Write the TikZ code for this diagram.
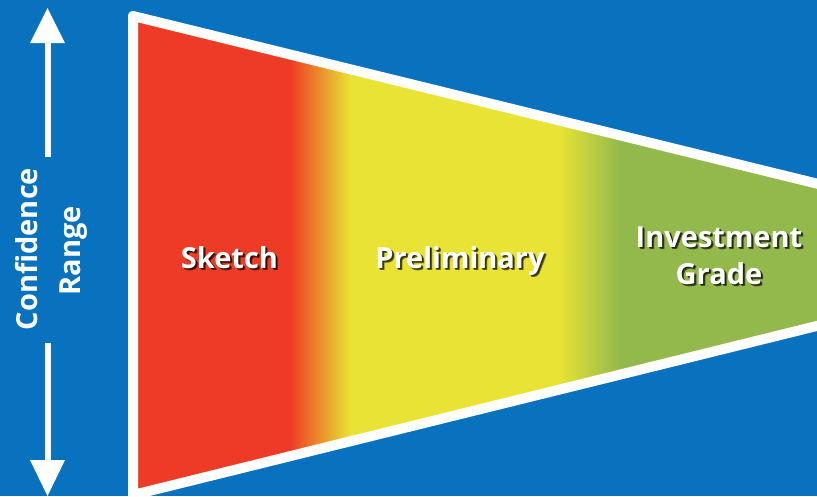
\documentclass[tikz,border=0pt]{standalone}
\usepackage{fontspec}
\setmainfont{Open Sans}
\definecolor{bgblue}{RGB}{9,114,190}
\definecolor{fred}{RGB}{238,59,37}
\definecolor{fyellow}{RGB}{232,227,52}
\definecolor{fgreen}{RGB}{147,184,76}
\tikzset{
  lbl/.style={text=white,font=\bfseries\fontsize{29}{34}\selectfont,inner sep=0pt,anchor=base},
  shd/.style={text=black,font=\bfseries\fontsize{29}{34}\selectfont,inner sep=0pt,anchor=base,opacity=#1},
  arrowpart/.style={fill=white,draw=none}
}
\begin{document}
\begin{tikzpicture}[x=1pt,y=-1pt]
\useasboundingbox (0,0) rectangle (817,496);
\fill[bgblue] (0,0) rectangle (817,496);
% funnel corners (stroke centre line)
\coordinate (tl) at (133,16);
\coordinate (tr) at (845,190.5);
\coordinate (br) at (845,319);
\coordinate (bl) at (133,495);
\begin{scope}
  \clip (tl) -- (tr) -- (br) -- (bl) -- cycle;
  \fill[fred] (120,0) rectangle (290,500);
  \shade[left color=fred,right color=fyellow] (289.5,0) rectangle (350.5,500);
  \fill[fyellow] (350,0) rectangle (560,500);
  \shade[left color=fyellow,right color=fgreen] (559.5,0) rectangle (620.5,500);
  \fill[fgreen] (620,0) rectangle (850,500);
\end{scope}
\draw[white,line width=10pt,line join=round] (tr) -- (tl) -- (bl) -- (br);
% double arrow
\fill[arrowpart] (30,43) -- (47.5,8) -- (65,43) -- cycle;
\fill[arrowpart] (44.5,42) rectangle (50.5,157);
\fill[arrowpart] (44.5,343) rectangle (50.5,461);
\fill[arrowpart] (30,460) -- (47.5,496) -- (65,460) -- cycle;
\node[lbl,rotate=90] (conf) at (37,249) {Confidence};
\node[lbl,rotate=90] (range) at (80,251) {Range};
% stage labels with shadows
\foreach \dx/\dy/\op in {2.5/2.5/0.25,2/2/0.45,1.5/1.5/0.45}{
  \node[shd=\op] at (229.5+\dx,268+\dy) {Sketch};
  \node[shd=\op] at (460+\dx,268+\dy) {Preliminary};
  \node[shd=\op] at (719+\dx,247+\dy) {Investment};
  \node[shd=\op] at (719+\dx,284+\dy) {Grade};
}
\node[lbl] (sketch) at (229.5,268) {Sketch};
\node[lbl] (prelim) at (460,268) {Preliminary};
\node[lbl] (invest) at (719,247) {Investment};
\node[lbl] (grade) at (719,284) {Grade};
\end{tikzpicture}
\end{document}
